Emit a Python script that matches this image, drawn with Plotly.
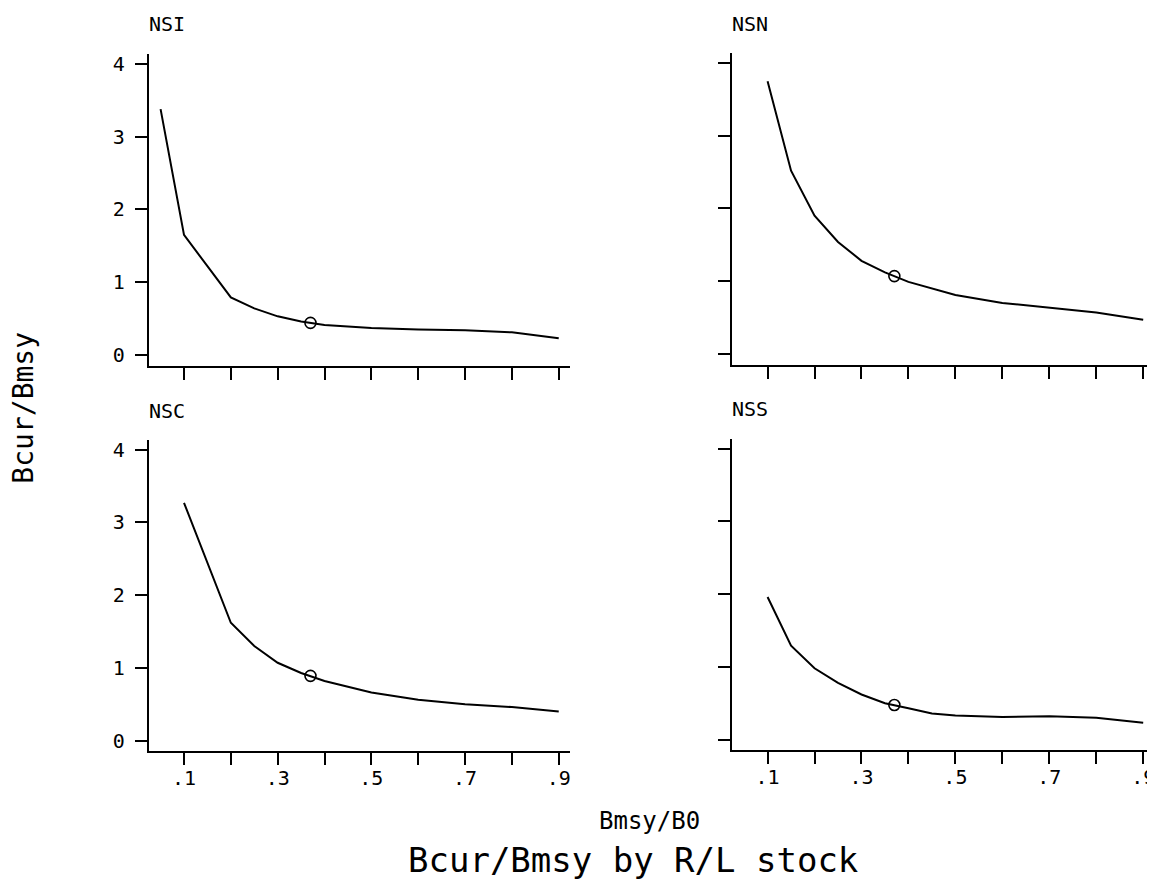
import plotly.graph_objects as go

# ---- data ----
stocks = ["NSI", "NSN", "NSC", "NSS"]

nsi_x = [0.05, 0.1, 0.2, 0.25, 0.3, 0.35, 0.4, 0.5, 0.6, 0.7, 0.8, 0.9]
nsi_y = [3.38, 1.65, 0.79, 0.64, 0.53, 0.46, 0.41, 0.37, 0.35, 0.34, 0.31, 0.23]

nsn_x = [0.1, 0.15, 0.2, 0.25, 0.3, 0.35, 0.4, 0.5, 0.6, 0.7, 0.8, 0.9]
nsn_y = [3.75, 2.52, 1.90, 1.54, 1.28, 1.12, 0.99, 0.81, 0.70, 0.63, 0.57, 0.47]

nsc_x = [0.1, 0.2, 0.25, 0.3, 0.35, 0.4, 0.5, 0.6, 0.7, 0.8, 0.9]
nsc_y = [3.27, 1.62, 1.30, 1.07, 0.93, 0.82, 0.66, 0.56, 0.50, 0.46, 0.40]

nss_x = [0.1, 0.15, 0.2, 0.25, 0.3, 0.35, 0.4, 0.45, 0.5, 0.6, 0.7, 0.8, 0.9]
nss_y = [1.96, 1.29, 0.98, 0.78, 0.62, 0.50, 0.43, 0.36, 0.33, 0.31, 0.32, 0.30, 0.23]

cur_x = [0.37, 0.37, 0.37, 0.37]
cur_y = [0.44, 1.07, 0.89, 0.475]

x_ticks = [0.1, 0.2, 0.3, 0.4, 0.5, 0.6, 0.7, 0.8, 0.9]
x_ticktext = [".1", "", ".3", "", ".5", "", ".7", "", ".9"]
y_ticks = [0, 1, 2, 3, 4]
y_ticktext = ["0", "1", "2", "3", "4"]

series_x = [nsi_x, nsn_x, nsc_x, nss_x]
series_y = [nsi_y, nsn_y, nsc_y, nss_y]

# ---- layout ----
OFF = 8  # page body margin
W, H = 1155 - OFF, 891 - OFF
FONT = "DejaVu Sans Mono"
# pixel boxes in window coordinates (left, right, top, bottom)
boxes = [(149, 570, 52, 365), (733, 1155, 51, 364),
         (149, 570, 439, 752), (733, 1155, 438, 751)]


def px(x):
    return (x - OFF) / W


def py(y):
    return 1 - (y - OFF) / H


fig = go.Figure()
layout = dict(width=W, height=H, margin=dict(l=0, r=0, t=0, b=0),
              paper_bgcolor="white", plot_bgcolor="white", showlegend=False)

for i in range(4):
    xa = "x" if i == 0 else f"x{i+1}"
    ya = "y" if i == 0 else f"y{i+1}"
    fig.add_trace(go.Scatter(x=series_x[i], y=series_y[i], mode="lines",
                             line=dict(color="black", width=2),
                             xaxis=xa, yaxis=ya, hoverinfo="skip"))
    fig.add_trace(go.Scatter(x=[cur_x[i]], y=[cur_y[i]], mode="markers",
                             marker=dict(symbol="circle-open", size=11, color="black",
                                         line=dict(width=1.6, color="black")),
                             xaxis=xa, yaxis=ya, hoverinfo="skip"))
    l, r, t, b = boxes[i]
    bottom_row = i >= 2
    left_col = i % 2 == 0
    layout["xaxis" if i == 0 else f"xaxis{i+1}"] = dict(
        domain=[px(l), min(px(r), 1.0)], anchor=ya, range=[0.025, 0.923],
        tickmode="array", tickvals=x_ticks,
        ticktext=x_ticktext if bottom_row else [""] * len(x_ticks),
        ticks="outside", ticklen=12, tickwidth=2, tickcolor="black",
        ticklabeloverflow="allow", ticklabelstandoff=-4,
        showline=True, linecolor="black", linewidth=2, showgrid=False, zeroline=False,
        tickfont=dict(family=FONT, size=20, color="black"))
    layout["yaxis" if i == 0 else f"yaxis{i+1}"] = dict(
        domain=[py(b), py(t)], anchor=xa, range=[-0.15, 4.14],
        tickmode="array", tickvals=y_ticks,
        ticktext=y_ticktext if left_col else [""] * len(y_ticks),
        ticks="outside", ticklen=12, tickwidth=2, tickcolor="black",
        ticklabelstandoff=6,
        showline=True, linecolor="black", linewidth=2, showgrid=False, zeroline=False,
        tickfont=dict(family=FONT, size=20, color="black"))

fig.update_layout(**layout)

title_pos = [(147, 22), (731, 22), (147, 410), (731, 408)]
anns = []
for name, (tx, ty) in zip(stocks, title_pos):
    anns.append(dict(text=name, x=px(tx), y=py(ty), xref="paper", yref="paper",
                     xanchor="left", yanchor="middle", showarrow=False,
                     font=dict(family=FONT, size=20, color="black")))
anns.append(dict(text="Bmsy/B0", x=px(650), y=py(822), xref="paper", yref="paper",
                 xanchor="center", yanchor="middle", showarrow=False, borderpad=0,
                 font=dict(family=FONT, size=24, color="black")))
anns.append(dict(text="Bcur/Bmsy by R/L stock", x=px(634), y=py(861),
                 xref="paper", yref="paper", xanchor="center", yanchor="middle",
                 showarrow=False, borderpad=0,
                 font=dict(family=FONT, size=34, color="black")))
anns.append(dict(text="Bcur/Bmsy", x=px(24), y=py(407), xref="paper", yref="paper",
                 xanchor="center", yanchor="middle", showarrow=False, textangle=-90,
                 borderpad=0, font=dict(family=FONT, size=28, color="black")))
fig.update_layout(annotations=anns)

fig.write_html("out.html")
